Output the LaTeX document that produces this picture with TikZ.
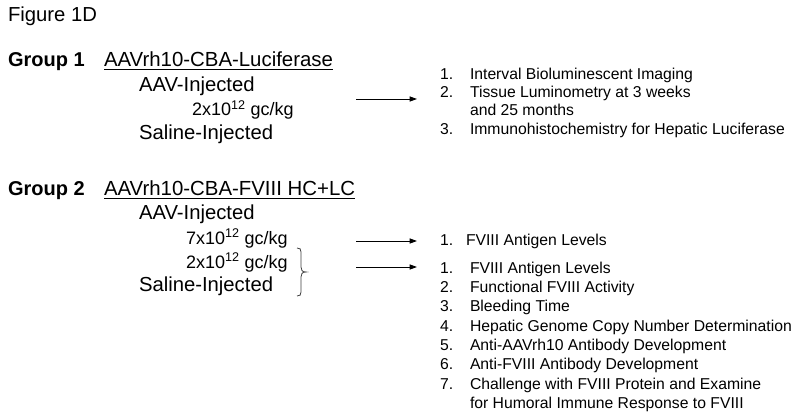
\documentclass[tikz,border=0pt]{standalone}
\usepackage{fontspec}
\setmainfont{Liberation Sans}
\usetikzlibrary{arrows.meta,calc}
\begin{document}
\begin{tikzpicture}[x=0.75pt,y=-0.75pt,
  txt/.style={anchor=base west,inner sep=0pt,outer sep=0pt},
  fig/.style={txt,font=\fontsize{15.2}{18}\selectfont},
  grp/.style={txt,font=\fontsize{15}{18}\selectfont\bfseries},
  vec/.style={txt,font=\fontsize{15.3}{18}\selectfont},
  arm/.style={txt,font=\fontsize{15.2}{18}\selectfont},
  dose/.style={txt,font=\fontsize{13.5}{16}\selectfont},
  item/.style={txt,font=\fontsize{11.8}{14}\selectfont},
  link/.style={-{Triangle[length=5.5pt,width=3.8pt]},line width=0.7pt},
  uline/.style={line width=0.75pt},
  bracestyle/.style={line width=0.6pt,black!75}]
\useasboundingbox[fill=white] (0,0) rectangle (800,417);

\node[fig] (title) at (8,22) {Figure 1D};

% Group 1
\node[grp] (g1) at (8,66.5) {Group 1};
\node[vec] (g1v) at (104,66.5) {AAVrh10-CBA-Luciferase};
\draw[uline] ($(g1v.base west)+(0,3)$) -- ($(g1v.base east)+(0,3)$);
\node[arm] (g1aav) at (139,91.5) {AAV-Injected};
\node[dose] (g1dose) at (192,116) {2x10\textsuperscript{12} gc/kg};
\node[arm] (g1sal) at (139,139.5) {Saline-Injected};

\coordinate (a1s) at (356,99);
\coordinate (a1e) at (417,99);
\draw[link] (a1s) -- (a1e);

\node[item] (l1n1) at (440,80) {1.};
\node[item] (l1t1) at (470,80) {Interval Bioluminescent Imaging};
\node[item] (l1n2) at (440,98) {2.};
\node[item] (l1t2) at (470,98) {Tissue Luminometry at 3 weeks};
\node[item] (l1t2b) at (470,116) {and 25 months};
\node[item] (l1n3) at (440,134.5) {3.};
\node[item] (l1t3) at (470,134.5) {Immunohistochemistry for Hepatic Luciferase};

% Group 2
\node[grp] (g2) at (8,195.5) {Group 2};
\node[vec] (g2v) at (104,195.5) {AAVrh10-CBA-FVIII HC+LC};
\draw[uline] ($(g2v.base west)+(0,3)$) -- ($(g2v.base east)+(0,3)$);
\node[arm] (g2aav) at (139,220) {AAV-Injected};
\node[dose] (g2d7) at (186,244.5) {7x10\textsuperscript{12} gc/kg};
\node[dose] (g2d2) at (186,268.5) {2x10\textsuperscript{12} gc/kg};
\node[arm] (g2sal) at (139,291.5) {Saline-Injected};

\draw[bracestyle] (297,248) .. controls (300,248) and (301,249) .. (301,252)
  -- (301,267) .. controls (301,270) and (302,272) .. (306,272)
  .. controls (302,272) and (301,274) .. (301,277)
  -- (301,292) .. controls (301,295) and (300,296) .. (297,296);

\coordinate (a2s) at (356,241);
\coordinate (a2e) at (417,241);
\draw[link] (a2s) -- (a2e);
\coordinate (a3s) at (356,267);
\coordinate (a3e) at (417,267);
\draw[link] (a3s) -- (a3e);

\node[item] (l2n1) at (440,246) {1.};
\node[item] (l2t1) at (466,246) {FVIII Antigen Levels};

\node[item] (l3n1) at (440,273) {1.};
\node[item] (l3t1) at (470,273) {FVIII Antigen Levels};
\node[item] (l3n2) at (440,292) {2.};
\node[item] (l3t2) at (470,292) {Functional FVIII Activity};
\node[item] (l3n3) at (440,311.5) {3.};
\node[item] (l3t3) at (470,311.5) {Bleeding Time};
\node[item] (l3n4) at (440,331) {4.};
\node[item] (l3t4) at (470,331) {Hepatic Genome Copy Number Determination};
\node[item] (l3n5) at (440,350) {5.};
\node[item] (l3t5) at (470,350) {Anti-AAVrh10 Antibody Development};
\node[item] (l3n6) at (440,369.5) {6.};
\node[item] (l3t6) at (470,369.5) {Anti-FVIII Antibody Development};
\node[item] (l3n7) at (440,389) {7.};
\node[item] (l3t7) at (470,389) {Challenge with FVIII Protein and Examine};
\node[item] (l3t7b) at (470,408) {for Humoral Immune Response to FVIII};
\end{tikzpicture}
\end{document}
